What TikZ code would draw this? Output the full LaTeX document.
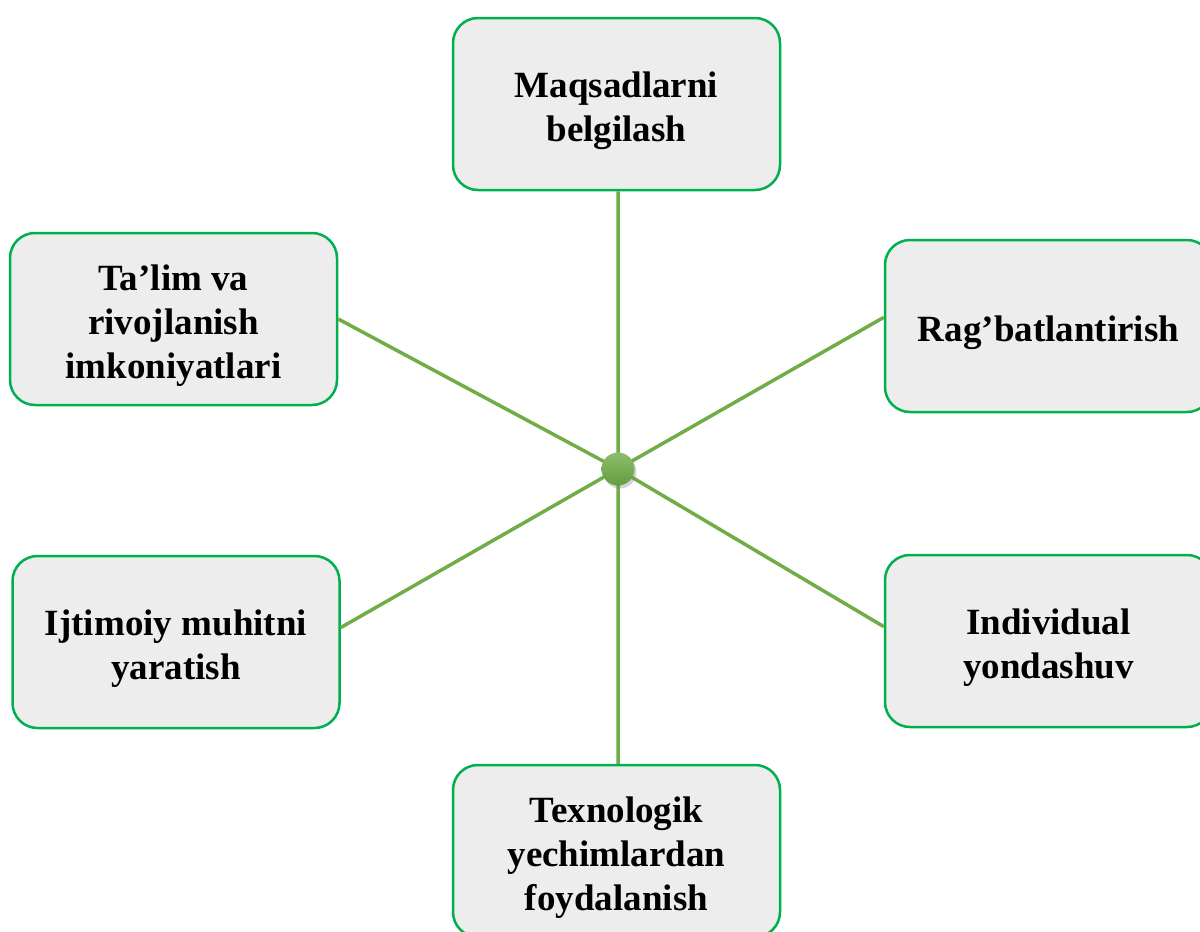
\documentclass[tikz,border=0pt]{standalone}
\usepackage{fontspec}
\setmainfont{Liberation Serif}
\usetikzlibrary{shadows}
\definecolor{boxgreen}{HTML}{00B050}
\definecolor{linegreen}{HTML}{70AD47}
\definecolor{boxgray}{HTML}{EDEDED}
\tikzset{main node/.style={rectangle,rounded corners=25pt,draw=boxgreen,line width=2.5pt,fill=boxgray,
		minimum width=327pt,minimum height=172pt,inner sep=0pt,
		font=\fontsize{37}{44}\selectfont\bfseries},
}
\newcommand\boxlines[1]{\raisebox{-7pt}[\height][\depth]{\begin{tabular}{@{}c@{}}#1\end{tabular}}}

\begin{document}
\begin{tikzpicture}[x=1pt,y=-1pt,
		spoke/.style={draw=linegreen,line width=3.5pt},
		hub node/.style={circle,top color=linegreen!80!white,bottom color=linegreen!90!black,
			minimum size=33pt,inner sep=0pt,
			drop shadow={opacity=0.35,shadow xshift=2pt,shadow yshift=-3pt}}]
		
		\useasboundingbox (0,0) rectangle (1200,932);
		
		\node[main node] (goal) at (616.5,104) {\boxlines{Maqsadlarni\\belgilash}};
		\node[main node] (learn) at (173.5,319) {\boxlines{Ta’lim va\\rivojlanish\\imkoniyatlari}};
		\node[main node] (reward) at (1048.5,326) {\boxlines{Rag’batlantirish}};
		\node[main node] (social) at (176,642) {\boxlines{Ijtimoiy muhitni\\yaratish}};
		\node[main node] (indiv) at (1048.5,641) {\boxlines{Individual\\yondashuv}};
		\node[main node] (tech) at (616.5,851) {\boxlines{Texnologik\\yechimlardan\\foydalanish}};
		
		\coordinate (hub) at (618,469);
		
		\path[spoke]
		(hub) -- (hub |- goal.south)
		(hub) -- (learn.east)
		(hub) -- (reward.177)
		(hub) -- (social.5)
		(hub) -- (indiv.175)
		(hub) -- (hub |- tech.north)
		;
		
		\node[hub node] (center) at (hub) {};
		\end{tikzpicture}
\end{document}
